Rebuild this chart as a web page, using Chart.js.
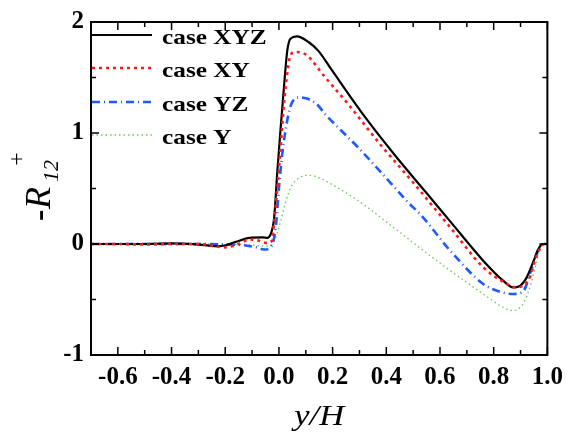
<!DOCTYPE html>
<html>
<head>
<meta charset="utf-8">
<script src="https://cdn.jsdelivr.net/npm/chart.js@4.4.0/dist/chart.umd.min.js"></script>
<style>
    body { margin: 0; background: #fff; }
    canvas { display: block; }
</style>
</head>
<body>
<canvas id="chart" width="571" height="435"></canvas>
<script>
const seriesNames = ['case XYZ', 'case XY', 'case YZ', 'case Y'];

// case XYZ (black solid)
const xyzX = [-0.70, -0.60, -0.50, -0.40, -0.30, -0.22, -0.16, -0.11, -0.06, -0.043, -0.031, -0.018, -0.006, 0.006, 0.018, 0.031, 0.043, 0.067, 0.11, 0.147, 0.196, 0.319, 0.442, 0.546, 0.638, 0.761, 0.835, 0.872, 0.896, 0.921, 0.951, 0.970, 0.982, 1.0];
const xyzY = [0, 0, 0, 0.005, -0.005, -0.02, 0.02, 0.056, 0.06, 0.056, 0.086, 0.23, 0.65, 1.03, 1.39, 1.74, 1.85, 1.87, 1.82, 1.74, 1.57, 1.15, 0.77, 0.47, 0.204, -0.15, -0.33, -0.39, -0.38, -0.31, -0.14, -0.03, 0, 0];

// case XY (red dotted)
const xyX = [-0.70, -0.60, -0.50, -0.40, -0.30, -0.20, -0.15, -0.11, -0.074, -0.049, -0.025, -0.018, -0.006, 0.006, 0.018, 0.031, 0.043, 0.061, 0.104, 0.166, 0.258, 0.38, 0.503, 0.638, 0.761, 0.835, 0.884, 0.933, 0.958, 0.988, 1.0];
const xyY = [0, 0, -0.005, 0, 0, -0.03, 0, 0.04, 0.03, 0.01, 0.03, 0.2, 0.5, 0.86, 1.24, 1.54, 1.70, 1.73, 1.70, 1.52, 1.26, 0.89, 0.545, 0.15, -0.21, -0.34, -0.39, -0.31, -0.12, 0, 0];

// case YZ (blue dash-dot)
const yzX = [-0.70, -0.60, -0.50, -0.40, -0.30, -0.20, -0.136, -0.086, -0.049, -0.031, -0.012, 0, 0.012, 0.025, 0.043, 0.074, 0.104, 0.141, 0.172, 0.233, 0.295, 0.356, 0.418, 0.479, 0.528, 0.638, 0.761, 0.823, 0.872, 0.909, 0.939, 0.964, 0.988, 1.0];
const yzY = [0, 0, 0, 0, 0, -0.005, -0.01, -0.03, -0.05, -0.03, 0.145, 0.5, 0.8, 1.03, 1.24, 1.32, 1.31, 1.26, 1.17, 1.02, 0.87, 0.71, 0.545, 0.38, 0.264, -0.06, -0.36, -0.43, -0.45, -0.43, -0.24, -0.06, 0, 0];

// case Y (green dotted)
const yX = [-0.70, -0.60, -0.50, -0.40, -0.30, -0.20, -0.10, -0.05, -0.025, 0.006, 0.025, 0.049, 0.086, 0.11, 0.135, 0.233, 0.319, 0.405, 0.516, 0.638, 0.761, 0.835, 0.872, 0.909, 0.939, 0.958, 0.976, 1.0];
const yY = [0, 0, 0, 0, 0, 0, -0.01, -0.02, 0.0, 0.2, 0.38, 0.53, 0.61, 0.62, 0.61, 0.486, 0.35, 0.19, -0.018, -0.24, -0.45, -0.57, -0.60, -0.54, -0.36, -0.18, -0.03, 0];

const xTickValues = [-0.6, -0.4, -0.2, 0.0, 0.2, 0.4, 0.6, 0.8, 1.0];
const xMinorValues = [-0.7, -0.5, -0.3, -0.1, 0.1, 0.3, 0.5, 0.7, 0.9];
const yTickValues = [-1, 0, 1, 2];
const yMinorValues = [-0.5, 0.5, 1.5];

const serif = '"Liberation Serif", "Times New Roman", serif';

function toPoints(xs, ys) {
    return xs.map((x, i) => ({ x: x, y: ys[i] }));
}

function drawLine(ctx, x1, y1, x2, y2) {
    ctx.beginPath();
    ctx.moveTo(x1, y1);
    ctx.lineTo(x2, y2);
    ctx.stroke();
}

// frame, inward ticks, legend and axis titles
const decorPlugin = {
    id: 'decor',
    afterDraw(chart) {
        const ctx = chart.ctx;
        const a = chart.chartArea;
        const xs = chart.scales.x;
        const ys = chart.scales.y;

        ctx.save();
        ctx.strokeStyle = '#000';
        ctx.lineWidth = 2;
        ctx.setLineDash([]);
        ctx.strokeRect(a.left, a.top, a.right - a.left, a.bottom - a.top);

        ctx.lineWidth = 1.5;
        xTickValues.forEach(v => {
            const p = xs.getPixelForValue(v);
            drawLine(ctx, p, a.bottom, p, a.bottom - 8);
            drawLine(ctx, p, a.top, p, a.top + 8);
        });
        xMinorValues.forEach(v => {
            const p = xs.getPixelForValue(v);
            drawLine(ctx, p, a.bottom, p, a.bottom - 5);
            drawLine(ctx, p, a.top, p, a.top + 5);
        });
        yTickValues.forEach(v => {
            const p = ys.getPixelForValue(v);
            drawLine(ctx, a.left, p, a.left + 8, p);
            drawLine(ctx, a.right, p, a.right - 8, p);
        });
        yMinorValues.forEach(v => {
            const p = ys.getPixelForValue(v);
            drawLine(ctx, a.left, p, a.left + 5, p);
            drawLine(ctx, a.right, p, a.right - 5, p);
        });

        // legend
        const legendY = [35, 68, 102, 135];
        chart.data.datasets.forEach((ds, i) => {
            ctx.strokeStyle = ds.borderColor;
            ctx.lineWidth = ds.borderWidth;
            ctx.setLineDash(ds.borderDash || []);
            drawLine(ctx, a.left + 1, legendY[i], a.left + 61, legendY[i]);
            ctx.setLineDash([]);
            ctx.save();
            ctx.translate(a.left + 71, legendY[i] + 9);
            ctx.scale(1.15, 1);
            ctx.fillStyle = '#000';
            ctx.font = 'bold 22px ' + serif;
            ctx.textBaseline = 'alphabetic';
            ctx.fillText(ds.label, 0, 0);
            ctx.restore();
        });

        // x title
        ctx.save();
        ctx.translate((a.left + a.right) / 2, 425);
        ctx.scale(1.15, 1);
        ctx.fillStyle = '#000';
        ctx.font = 'italic 30px ' + serif;
        ctx.textAlign = 'center';
        ctx.fillText('y/H', 0, 0);
        ctx.restore();

        // y title: -R with subscript 12 and superscript +
        ctx.save();
        ctx.translate(50, 221);
        ctx.rotate(-Math.PI / 2);
        ctx.fillStyle = '#000';
        ctx.textBaseline = 'alphabetic';
        ctx.font = 'bold 34px ' + serif;
        ctx.fillText('-', 0, 0);
        ctx.font = 'italic 36px ' + serif;
        ctx.fillText('R', 12, 0);
        ctx.font = 'italic 22px ' + serif;
        ctx.fillText('12', 39, 8);
        ctx.font = '24px ' + serif;
        ctx.textAlign = 'center';
        ctx.fillText('+', 62, -26);
        ctx.restore();

        ctx.restore();
    }
};

window.addEventListener('load', function () {
    const canvas = document.getElementById('chart');
    new Chart(canvas, {
        type: 'line',
        data: {
            datasets: [
                {
                    label: seriesNames[0],
                    data: toPoints(xyzX, xyzY),
                    borderColor: '#000000',
                    borderWidth: 2.2,
                    borderDash: [],
                    order: 1
                },
                {
                    label: seriesNames[1],
                    data: toPoints(xyX, xyY),
                    borderColor: 'rgb(255,25,25)',
                    borderWidth: 2.6,
                    borderDash: [3, 4],
                    order: 0
                },
                {
                    label: seriesNames[2],
                    data: toPoints(yzX, yzY),
                    borderColor: 'rgb(30,90,255)',
                    borderWidth: 2.6,
                    borderDash: [8, 4, 1, 4],
                    order: 2
                },
                {
                    label: seriesNames[3],
                    data: toPoints(yX, yY),
                    borderColor: 'rgb(120,195,100)',
                    borderWidth: 1.4,
                    borderDash: [1.5, 3],
                    order: 3
                }
            ]
        },
        options: {
            responsive: false,
            animation: false,
            devicePixelRatio: 1,
            layout: { padding: { top: 18, right: 20, left: 0, bottom: 0 } },
            elements: {
                point: { radius: 0 },
                line: { fill: false, cubicInterpolationMode: 'monotone' }
            },
            plugins: {
                legend: { display: false },
                tooltip: { enabled: false }
            },
            scales: {
                x: {
                    type: 'linear',
                    min: -0.7,
                    max: 1.0,
                    grid: { display: false, drawTicks: false },
                    border: { display: false },
                    afterBuildTicks: scale => {
                        scale.ticks = xTickValues.map(v => ({ value: v }));
                    },
                    afterFit: scale => { scale.height = 80; },
                    ticks: {
                        color: '#000',
                        padding: 8,
                        maxRotation: 0,
                        autoSkip: false,
                        font: { family: serif, size: 25, weight: 'bold' },
                        callback: v => v.toFixed(1)
                    }
                },
                y: {
                    type: 'linear',
                    min: -1,
                    max: 2,
                    grid: { display: false, drawTicks: false },
                    border: { display: false },
                    afterBuildTicks: scale => {
                        scale.ticks = yTickValues.map(v => ({ value: v }));
                    },
                    afterFit: scale => { scale.width = 91; },
                    ticks: {
                        color: '#000',
                        padding: 7,
                        autoSkip: false,
                        font: { family: serif, size: 25, weight: 'bold' },
                        callback: v => String(v)
                    }
                }
            }
        },
        plugins: [decorPlugin]
    });
});
</script>
</body>
</html>
